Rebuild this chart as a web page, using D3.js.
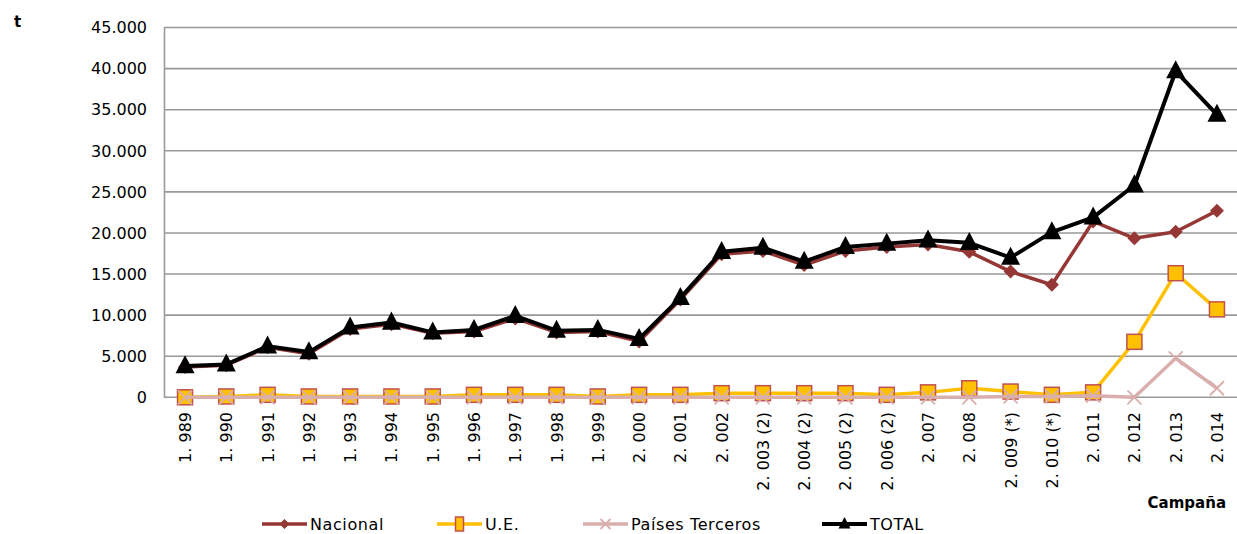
<!DOCTYPE html>
<html><head><meta charset="utf-8">
<script src="https://cdn.jsdelivr.net/npm/d3@7"></script>
<style>
body{margin:0;background:#fff;}
svg{display:block;}
text{font-family:"DejaVu Sans",sans-serif;}
</style></head>
<body><svg id="c" width="1237" height="534"></svg>
<script>
const categories = ["1. 989","1. 990","1. 991","1. 992","1. 993","1. 994","1. 995","1. 996","1. 997","1. 998","1. 999","2. 000","2. 001","2. 002","2. 003 (2)","2. 004 (2)","2. 005 (2)","2. 006 (2)","2. 007","2. 008","2. 009 (*)","2. 010 (*)","2. 011","2. 012","2. 013","2. 014"];
const nacional = [3700,3900,6100,5300,8300,8900,7800,8000,9600,7900,8000,6800,11900,17400,17800,16100,17800,18300,18600,17700,15300,13700,21400,19350,20150,22700];
const ue = [0,100,300,100,100,100,100,300,300,300,100,300,300,500,500,500,500,300,600,1100,700,300,600,6750,15100,10700];
const terceros = [0,0,0,0,0,0,0,0,0,0,0,0,0,0,0,0,0,0,0,0,100,100,200,0,4750,1100];
const total = [3800,4000,6200,5500,8500,9100,7900,8200,9900,8100,8200,7100,12100,17700,18200,16500,18300,18700,19100,18800,17000,20100,21900,25800,39700,34400];
const yTicks = [0,5000,10000,15000,20000,25000,30000,35000,40000,45000];
const yTickLabels = ["0","5.000","10.000","15.000","20.000","25.000","30.000","35.000","40.000","45.000"];

const svg = d3.select("#c");
const x = d3.scalePoint().domain(categories).range([164.4,1237.6]).padding(0.5);
const y = d3.scaleLinear().domain([0,45000]).range([397.3,27.5]);

// gridlines
svg.append("g").selectAll("line").data(yTicks).join("line")
  .attr("x1",164).attr("x2",1237).attr("y1",d=>y(d)).attr("y2",d=>y(d))
  .attr("stroke","#999").attr("stroke-width",1.6);
svg.append("line").attr("x1",164.5).attr("x2",164.5).attr("y1",y(45000)).attr("y2",y(0))
  .attr("stroke","#999").attr("stroke-width",1.6);

// y labels
svg.append("g").selectAll("text").data(yTicks).join("text")
  .attr("x",147).attr("y",d=>y(d)).attr("dy","0.36em").attr("text-anchor","end")
  .attr("font-size",16).attr("fill","#000").text((d,i)=>yTickLabels[i]);

// x labels
svg.append("g").selectAll("text").data(categories).join("text")
  .attr("transform",d=>`translate(${x(d)+6},412) rotate(-90)`)
  .attr("text-anchor","end").attr("font-size",16).attr("fill","#000").text(d=>d);

svg.append("text").attr("x",14).attr("y",27).attr("font-size",15).attr("font-weight","bold").text("t");
svg.append("text").attr("x",1226).attr("y",508).attr("text-anchor","end").attr("font-size",15).attr("font-weight","bold").text("Campaña");

const line = d3.line().x((d,i)=>x(categories[i])).y(d=>y(d));

function diamond(g,cx,cy,s,fill){
  g.append("path").attr("d",`M${cx},${cy-s}L${cx+s},${cy}L${cx},${cy+s}L${cx-s},${cy}Z`).attr("fill",fill);
}
function square(g,cx,cy,s){
  g.append("rect").attr("x",cx-s).attr("y",cy-s).attr("width",2*s).attr("height",2*s).attr("fill","#FFC000").attr("stroke","#C0504D").attr("stroke-width",1.5);
}
function cross(g,cx,cy,s){
  g.append("path").attr("d",`M${cx-s},${cy-s}L${cx+s},${cy+s}M${cx-s},${cy+s}L${cx+s},${cy-s}`).attr("stroke","#D9AFAE").attr("stroke-width",1.8);
}
function tri(g,cx,cy,s){
  g.append("path").attr("d",`M${cx},${cy-s*1.15}L${cx+s},${cy+s*0.75}L${cx-s},${cy+s*0.75}Z`).attr("fill","#000");
}

const series = [
  {data:nacional,color:"#953735",w:3.5,mark:(g,cx,cy)=>diamond(g,cx,cy,7,"#953735")},
  {data:ue,color:"#FFC000",w:3.5,mark:(g,cx,cy)=>square(g,cx,cy,7.5)},
  {data:terceros,color:"#D9AFAE",w:3.5,mark:(g,cx,cy)=>cross(g,cx,cy,7)},
  {data:total,color:"#000",w:4,mark:(g,cx,cy)=>tri(g,cx,cy,9.5)}
];
series.forEach(s=>{
  const g = svg.append("g");
  g.append("path").datum(s.data).attr("d",line).attr("fill","none").attr("stroke",s.color).attr("stroke-width",s.w).attr("stroke-linejoin","round");
  s.data.forEach((v,i)=>s.mark(g,x(categories[i]),y(v)));
});

// legend
const legend = [
  {name:"Nacional",x:262,color:"#953735",w:3.5,mark:(g,cx,cy)=>diamond(g,cx,cy,5,"#953735")},
  {name:"U.E.",x:437,color:"#FFC000",w:3.5,mark:(g,cx,cy)=>{g.append("rect").attr("x",cx-4).attr("y",cy-7).attr("width",8).attr("height",14).attr("fill","#FFC000").attr("stroke","#C0504D").attr("stroke-width",1.5);}},
  {name:"Países Terceros",x:583,color:"#D9AFAE",w:3.5,mark:(g,cx,cy)=>cross(g,cx,cy,5)},
  {name:"TOTAL",x:822,color:"#000",w:4,mark:(g,cx,cy)=>tri(g,cx,cy,6)}
];
const ly = 524;
legend.forEach(l=>{
  const g = svg.append("g");
  g.append("line").attr("x1",l.x).attr("x2",l.x+45).attr("y1",ly).attr("y2",ly).attr("stroke",l.color).attr("stroke-width",l.w);
  l.mark(g,l.x+22.5,ly);
  g.append("text").attr("x",l.x+48).attr("y",ly).attr("dy","0.35em").attr("font-size",16).attr("letter-spacing",0.6).text(l.name);
});
</script></body></html>
